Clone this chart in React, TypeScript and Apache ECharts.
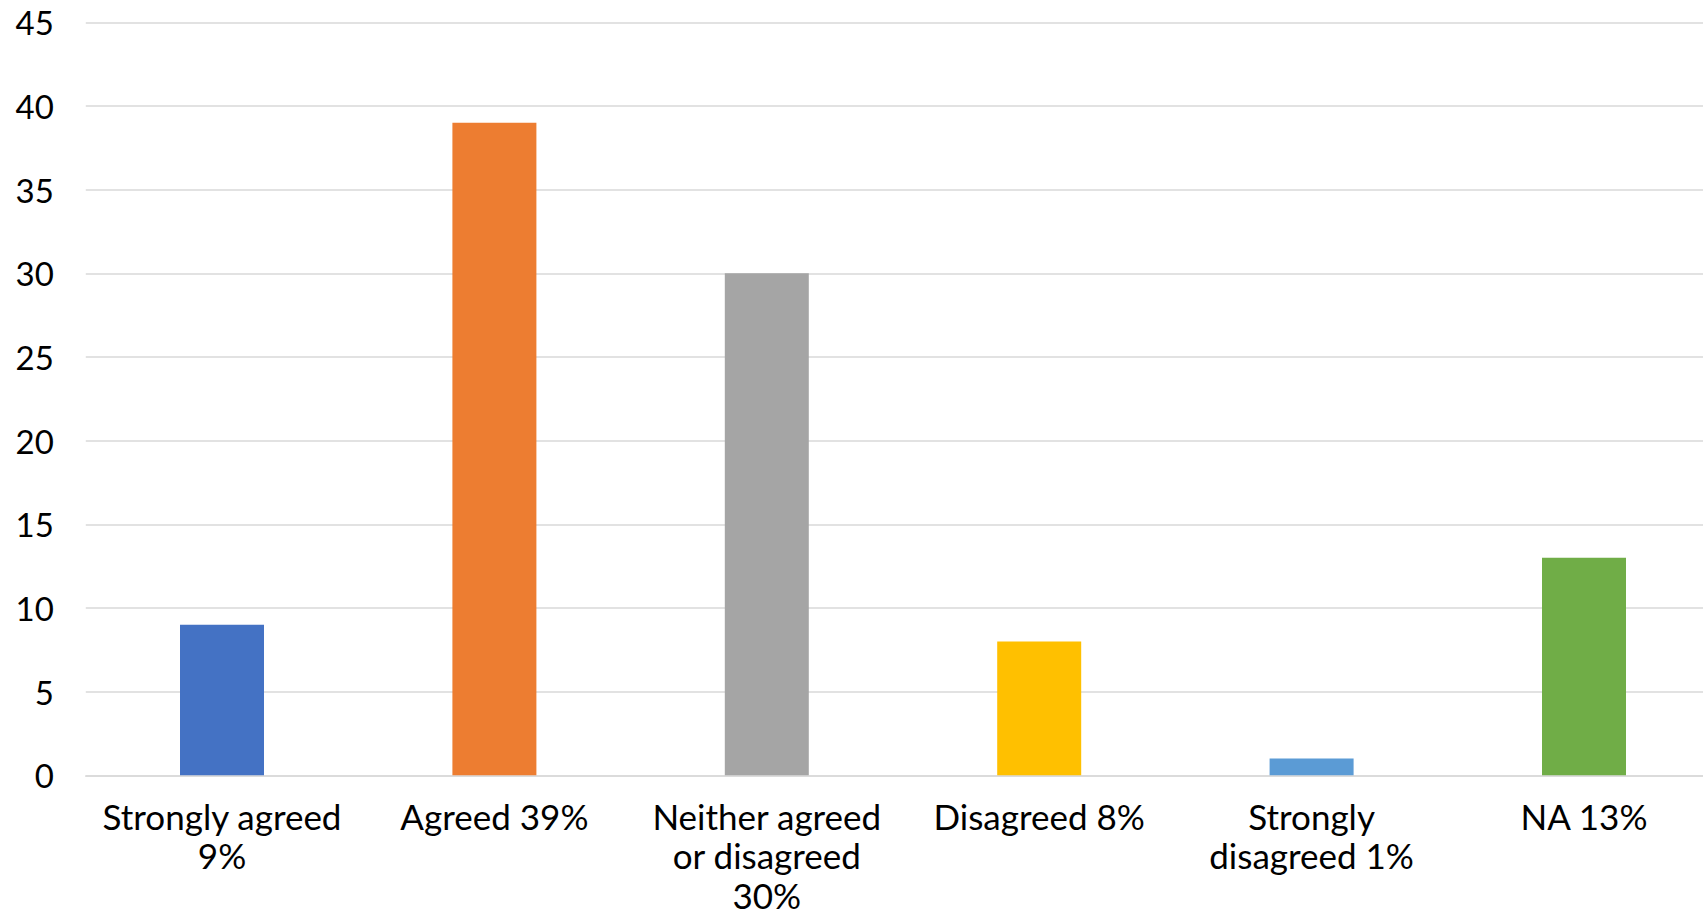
import React, { useEffect, useRef } from "react";
import * as echarts from "echarts";

const categories = [
  "Strongly agreed\n9%",
  "Agreed 39%",
  "Neither agreed\nor disagreed\n30%",
  "Disagreed 8%",
  "Strongly\ndisagreed 1%",
  "NA 13%",
];
const values = [9, 39, 30, 8, 1, 13];
const barColors = ["#4472C4", "#ED7D31", "#A5A5A5", "#FFC000", "#5B9BD5", "#70AD47"];
const yMin = 0;
const yMax = 45;
const yInterval = 5;

export default function App() {
  const ref = useRef<HTMLDivElement>(null);
  useEffect(() => {
    if (!ref.current) return;
    const chart = echarts.init(ref.current, undefined, { renderer: "svg" });
    const font = "Lato, 'Noto Sans', sans-serif";
    chart.setOption({
      animation: false,
      backgroundColor: "#ffffff",
      grid: {
        left: 85.8,
        top: 22.3,
        width: 1634.4,
        height: 753,
        containLabel: false,
        outerBoundsMode: "none",
      },
      xAxis: {
        type: "category",
        data: categories,
        axisLine: { show: true, lineStyle: { color: "#D9D9D9", width: 1.7 } },
        axisTick: { show: false },
        axisLabel: {
          interval: 0,
          margin: 20.5,
          color: "#000000",
          fontFamily: font,
          fontSize: 35,
          lineHeight: 39.5,
        },
      },
      yAxis: {
        type: "value",
        min: yMin,
        max: yMax,
        interval: yInterval,
        axisLine: { show: false },
        axisTick: { show: false },
        splitLine: { lineStyle: { color: "#D9D9D9", width: 1.7 } },
        axisLabel: {
          margin: 32,
          color: "#000000",
          fontFamily: font,
          fontSize: 33,
        },
      },
      series: [
        {
          type: "bar",
          data: values.map((v, i) => ({ value: v, itemStyle: { color: barColors[i] } })),
          barWidth: 84,
        },
      ],
    });
    return () => chart.dispose();
  }, []);
  return (
    <div
      ref={ref}
      style={{ position: "fixed", left: 0, top: 0, width: 1703, height: 915, background: "#fff" }}
    />
  );
}
